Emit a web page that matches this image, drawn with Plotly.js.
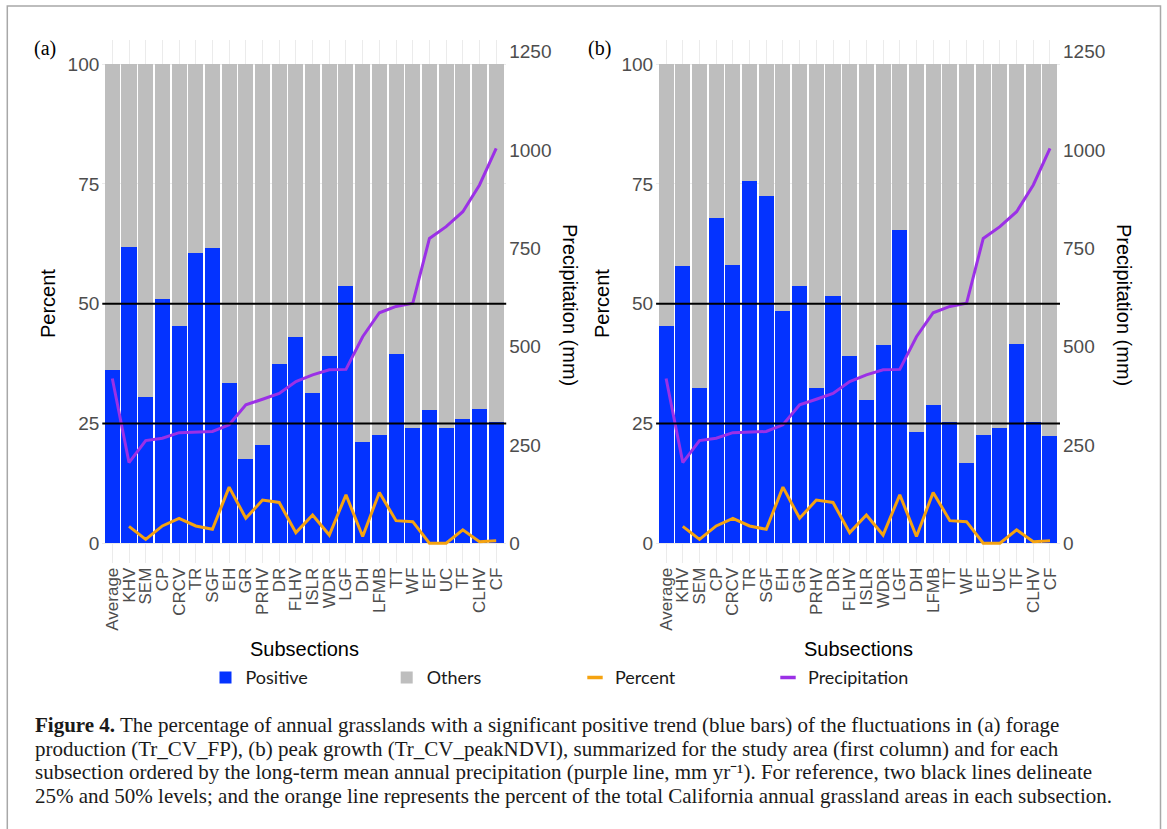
<!DOCTYPE html>
<html>
<head>
<meta charset="utf-8">
<script src="https://cdn.plot.ly/plotly-3.0.1.min.js"></script>
<style>
  html, body { margin: 0; padding: 0; background: #ffffff; }
  #chart { width: 1167px; height: 829px; }
</style>
</head>
<body>
<div id="chart"></div>
<script>
// ---------- data ----------
const categories = ["Average","KHV","SEM","CP","CRCV","TR","SGF","EH","GR","PRHV","DR","FLHV",
                    "ISLR","WDR","LGF","DH","LFMB","TT","WF","EF","UC","TF","CLHV","CF"];

// (a) forage production: % of grassland with significant positive trend
const positiveA = [36.2, 61.8, 30.5, 50.9, 45.4, 60.5, 61.6, 33.4, 17.5, 20.5, 37.5, 43.0,
                   31.4, 39.0, 53.7, 21.2, 22.5, 39.5, 24.1, 27.9, 24.1, 25.9, 28.0, 25.3];

// (b) peak growth
const positiveB = [45.4, 57.8, 32.4, 67.8, 58.0, 75.7, 72.5, 48.4, 53.7, 32.4, 51.6, 39.1,
                   29.8, 41.3, 65.4, 23.2, 28.8, 25.3, 16.7, 22.5, 24.1, 41.6, 25.2, 22.3];

// long-term mean annual precipitation (mm)
const precipitation = [419, 205, 261, 267, 281, 282, 284, 301, 352, 366, 381, 411,
                       428, 441, 442, 525, 586, 602, 610, 775, 805, 843, 911, 1004];

// percent of total California annual grassland area in each subsection (no value for Average)
const areaCategories = categories.slice(1);
const areaPercent = [3.5, 0.8, 3.6, 5.2, 3.6, 2.9, 11.7, 5.2, 9.0, 8.5, 2.2,
                     5.9, 1.7, 10.1, 1.4, 10.6, 4.7, 4.5, 0.0, 0.0, 2.8, 0.3, 0.5];

const leftTicks = [0, 25, 50, 75, 100];
const rightTicks = [0, 250, 500, 750, 1000, 1250];
const refLevels = [25, 50];

// ---------- styling ----------
const W = 1167, H = 829;
const px = v => v / W;            // x pixel -> paper
const py = v => (H - v) / H;      // y pixel -> paper

const BLUE = "#0433FF", GRAY = "#BEBEBE", ORANGE = "#F5A310", PURPLE = "#9B30E6";
const TICKC = "#4D4D4D";
const SANS = "Liberation Sans, Arial, sans-serif";
const SERIF = "Liberation Serif, Times New Roman, serif";

const yDomain = [py(563.3), py(40.3)];
const yRange = [-4.2, 105];
const mmPerPct = 12.18;
const y2Range = [yRange[0] * mmPerPct, yRange[1] * mmPerPct];

const others = arr => arr.map(v => 100 - v);

function panelTraces(pos, xa, ya, ya2, showLeg) {
  return [
    { type: "bar", name: "Positive", x: categories, y: pos, xaxis: xa, yaxis: ya,
      marker: { color: BLUE, line: { width: 0 } }, showlegend: showLeg, legend: "legend" },
    { type: "bar", name: "Others", x: categories, y: others(pos), xaxis: xa, yaxis: ya,
      marker: { color: GRAY, line: { width: 0 } }, showlegend: showLeg, legend: "legend2" },
    { type: "scatter", mode: "lines", name: "Percent", x: areaCategories, y: areaPercent,
      xaxis: xa, yaxis: ya, line: { color: ORANGE, width: 3 }, showlegend: false },
    { type: "scatter", mode: "lines", name: "Precipitation", x: categories, y: precipitation,
      xaxis: xa, yaxis: ya2, line: { color: PURPLE, width: 3 }, showlegend: false }
  ];
}

const traces = [
  ...panelTraces(positiveA, "x", "y", "y2", true),
  ...panelTraces(positiveB, "x2", "y3", "y4", false),
  // legend keys for the two lines (short dashes, as in the reference)
  { type: "scatter", mode: "markers", name: "Percent", x: [null], y: [null], xaxis: "x", yaxis: "y",
    marker: { symbol: "line-ew", size: 11, color: ORANGE, line: { width: 3.5, color: ORANGE } },
    legend: "legend3", showlegend: true },
  { type: "scatter", mode: "markers", name: "Precipitation", x: [null], y: [null], xaxis: "x", yaxis: "y",
    marker: { symbol: "line-ew", size: 11, color: PURPLE, line: { width: 3.5, color: PURPLE } },
    legend: "legend4", showlegend: true }
];

function xAxis(domain, anchor) {
  return {
    domain: domain, anchor: anchor, type: "category", range: [-0.6, 23.6],
    tickmode: "array", tickvals: categories, ticktext: categories,
    tickangle: -90, ticks: "", showline: false, zeroline: false,
    showgrid: true, gridcolor: "#EBEBEB", gridwidth: 1,
    tickfont: { family: SANS, size: 17, color: TICKC }, automargin: false, fixedrange: true
  };
}
function yLeft(anchor) {
  return {
    domain: yDomain, anchor: anchor, range: yRange, tickvals: leftTicks,
    ticks: "", showline: false, zeroline: false, showgrid: true, gridcolor: "#EBEBEB",
    tickfont: { family: SANS, size: 19, color: TICKC }, ticklabelstandoff: 2,
    automargin: false, fixedrange: true
  };
}
function yRight(overlay, anchor) {
  return {
    overlaying: overlay, anchor: anchor, side: "right", range: y2Range, tickvals: rightTicks,
    ticks: "", showline: false, zeroline: false, showgrid: false,
    tickfont: { family: SANS, size: 19, color: TICKC }, ticklabelstandoff: 2,
    automargin: false, fixedrange: true
  };
}

const domA = [px(102.3), px(506.2)];
const domB = [px(656.1), px(1060.0)];

const shapes = [];
[["x", "y"], ["x2", "y3"]].forEach(([xa, ya]) => {
  refLevels.forEach(level => {
    shapes.push({ type: "line", xref: xa + " domain", x0: 0, x1: 1, yref: ya, y0: level, y1: level,
                  line: { color: "#000000", width: 2 }, layer: "above" });
  });
});
// figure frame
shapes.push({ type: "rect", xref: "paper", yref: "paper", x0: px(7.3), x1: px(1160.5),
              y0: -0.02, y1: py(6), line: { color: "#A8A8A8", width: 1.5 }, layer: "below" });

function ann(text, x, y, opts) {
  return Object.assign({ text: text, x: px(x), y: py(y), xref: "paper", yref: "paper",
                         showarrow: false, xanchor: "center", yanchor: "middle" }, opts);
}
const titleFont = { family: SANS, size: 20, color: "#000000" };
const capFont = { family: SERIF, size: 21, color: "#1A1A1A" };
const annotations = [
  ann("(a)", 45, 49, { font: { family: SERIF, size: 20, color: "#000" } }),
  ann("(b)", 599, 49, { font: { family: SERIF, size: 20, color: "#000" } }),
  ann("Percent", 48, 304, { textangle: -90, font: titleFont }),
  ann("Percent", 602, 304, { textangle: -90, font: titleFont }),
  ann("Precipitation (mm)", 570, 305, { textangle: 90, font: titleFont }),
  ann("Precipitation (mm)", 1124, 305, { textangle: 90, font: titleFont }),
  ann("Subsections", 304.3, 649, { font: titleFont }),
  ann("Subsections", 858, 649, { font: titleFont }),
  ann("<b>Figure 4.</b> The percentage of annual grasslands with a significant positive trend (blue bars) of the fluctuations in (a) forage",
      33, 725, { xanchor: "left", font: capFont }),
  ann("production (Tr_CV_FP), (b) peak growth (Tr_CV_peakNDVI), summarized for the study area (first column) and for each",
      33, 748.5, { xanchor: "left", font: capFont }),
  ann("subsection ordered by the long-term mean annual precipitation (purple line, mm yr⁻¹). For reference, two black lines delineate",
      33, 772, { xanchor: "left", font: capFont }),
  ann("25% and 50% levels; and the orange line represents the percent of the total California annual grassland areas in each subsection.",
      33, 795.5, { xanchor: "left", font: capFont })
];

function legendAt(xPix) {
  return { x: px(xPix), y: py(677.7), xanchor: "left", yanchor: "middle", orientation: "h",
           bgcolor: "rgba(0,0,0,0)", borderwidth: 0, itemwidth: 30,
           font: { family: "Lato, Open Sans, sans-serif", size: 18, color: "#1A1A1A" } };
}

const layout = {
  width: W, height: H, autosize: false,
  margin: { l: 0, r: 0, t: 0, b: 0, pad: 0 },
  paper_bgcolor: "#ffffff", plot_bgcolor: "#ffffff",
  barmode: "stack", bargap: 0.1,
  xaxis: xAxis(domA, "y"),
  yaxis: yLeft("x"),
  yaxis2: yRight("y", "x"),
  xaxis2: xAxis(domB, "y3"),
  yaxis3: yLeft("x2"),
  yaxis4: yRight("y3", "x2"),
  legend: legendAt(205.5),
  legend2: legendAt(386.7),
  legend3: legendAt(575),
  legend4: legendAt(768),
  shapes: shapes,
  annotations: annotations,
  hovermode: false
};

Plotly.newPlot("chart", traces, layout, { displayModeBar: false, staticPlot: true });
</script>
</body>
</html>
